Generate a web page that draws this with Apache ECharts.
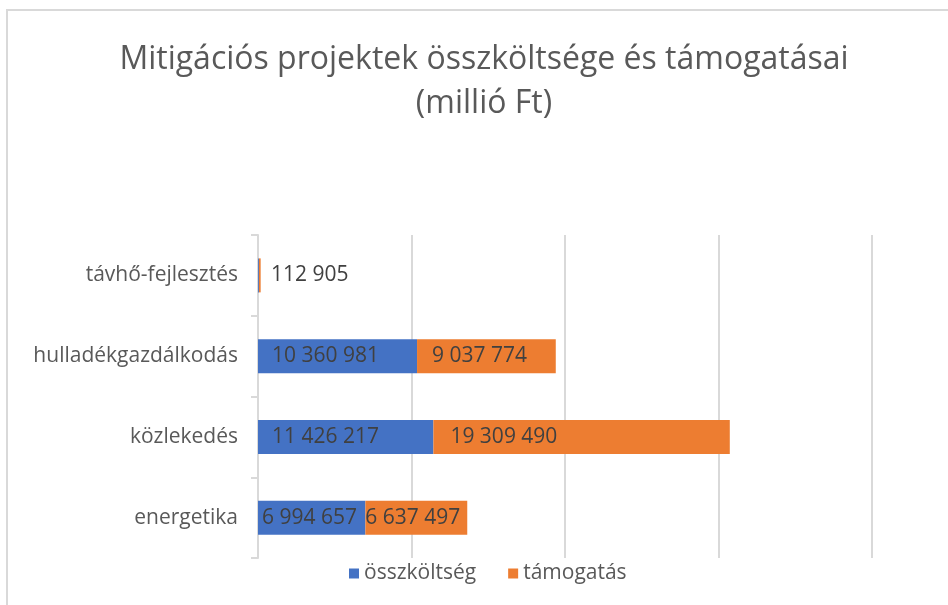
<!DOCTYPE html>
<html>
<head>
<meta charset="utf-8">
<script src="https://cdn.jsdelivr.net/npm/echarts@6/dist/echarts.min.js"></script>
<style>
  html, body { margin: 0; padding: 0; background: #fff; }
  #chart { position: absolute; left: 0; top: 0; width: 948px; height: 605px; }
  #frame { position: absolute; left: 6px; top: 9px; width: 1000px; height: 700px;
           border-left: 2px solid #d9d9d9; border-top: 2px solid #d9d9d9; pointer-events: none; }
</style>
</head>
<body>
<div id="chart"></div>
<div id="frame"></div>
<script>
// Project sectors, bottom to top
const categories = ['energetika', 'közlekedés', 'hulladékgazdálkodás', 'távhő-fejlesztés'];
// Total cost (blue) and subsidy (orange) per sector
const osszkoltseg = [6994657, 11426217, 10360981, 60000];
const tamogatas = [6637497, 19309490, 9037774, 112905];
// Which data points carry a visible value label
const showOsszkoltsegLabel = [true, true, true, false];
const showTamogatasLabel = [true, true, true, true];

const FONT = '"Open Sans", "Noto Sans", sans-serif';

function fmt(v) {
  return String(v).replace(/\B(?=(\d{3})+(?!\d))/g, ' ');
}

function labelled(values, shown, distances) {
  return values.map((v, i) => ({
    value: v,
    label: { show: shown[i], distance: distances[i] }
  }));
}

const chart = echarts.init(document.getElementById('chart'), null, { renderer: 'canvas' });

const labelStyle = {
  position: 'insideLeft',
  color: '#404040',
  fontFamily: FONT,
  fontSize: 21,
  formatter: p => fmt(p.value)
};

chart.setOption({
  animation: false,
  title: {
    text: 'Mitigációs projektek összköltsége és támogatásai\n(millió Ft)',
    left: 479,
    textAlign: 'center',
    top: 33,
    textStyle: {
      fontFamily: FONT,
      fontWeight: 'normal',
      fontSize: 32,
      lineHeight: 44,
      color: '#595959'
    }
  },
  legend: {
    bottom: 16,
    left: 344,
    icon: 'rect',
    itemWidth: 10,
    itemHeight: 10,
    itemGap: 32,
    textStyle: { fontFamily: FONT, fontSize: 21, color: '#595959' },
    data: ['összköltség', 'támogatás']
  },
  grid: { left: 258, right: 76, top: 235, bottom: 47 },
  xAxis: {
    type: 'value',
    min: 0,
    max: 40000000,
    interval: 10000000,
    axisLabel: { show: false },
    axisLine: { show: false },
    axisTick: { show: false },
    splitLine: { lineStyle: { color: '#d9d9d9', width: 2 } }
  },
  yAxis: {
    type: 'category',
    data: categories,
    axisLine: { lineStyle: { color: '#d9d9d9', width: 2 } },
    axisTick: { show: true, length: 7, lineStyle: { color: '#d9d9d9', width: 2 } },
    axisLabel: { fontFamily: FONT, fontSize: 21, color: '#595959', margin: 20 }
  },
  series: [
    {
      name: 'összköltség',
      type: 'bar',
      stack: 'total',
      barWidth: 34,
      itemStyle: { color: '#4472c4' },
      label: labelStyle,
      data: labelled(osszkoltseg, showOsszkoltsegLabel, [4, 14, 14, 14])
    },
    {
      name: 'támogatás',
      type: 'bar',
      stack: 'total',
      barWidth: 34,
      itemStyle: { color: '#ed7d31' },
      label: labelStyle,
      data: labelled(tamogatas, showTamogatasLabel, [0, 17, 15, 12])
    }
  ]
});
</script>
</body>
</html>
